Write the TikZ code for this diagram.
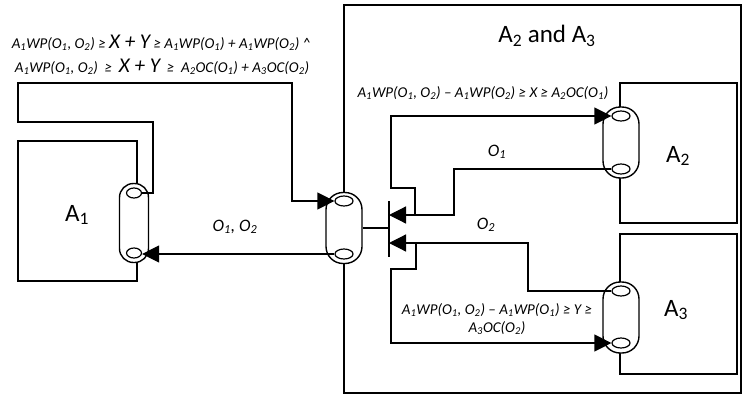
\documentclass[tikz,border=0pt]{standalone}
\usepackage{fontspec}
\setmainfont{Carlito}
\usetikzlibrary{arrows.meta,shapes.geometric}
\newcommand{\sbx}[1]{\textsubscript{#1}}
\begin{document}
\begin{tikzpicture}[x=1pt,y=-1pt,
  box/.style={draw,line width=1.2pt},
  pill/.style={draw,fill=white,line width=1.4pt,inner sep=0pt,minimum width=36pt,minimum height=71pt,rounded corners=17pt},
  ell/.style={ellipse,draw,fill=white,line width=1.2pt,inner sep=0pt,minimum width=18pt,minimum height=10pt},
  conn/.style={line width=1.2pt},
  arr/.style={line width=1.2pt,-{Triangle[length=17pt,width=17pt]}},
  barline/.style={line width=1.8pt},
  lbl/.style={font=\fontsize{15}{18}\selectfont\itshape,inner sep=0pt},
  olbl/.style={font=\fontsize{17.5}{20}\selectfont\itshape,inner sep=0pt},
  biglbl/.style={font=\fontsize{25}{28}\selectfont,inner sep=0pt}]
\useasboundingbox (0,0) rectangle (742,394);
% boxes
\draw[box] (344,5) rectangle (741,393);
\draw[box] (18,141) rectangle (137,281);
\draw[box] (620,83) rectangle (737,223);
\draw[box] (620,234) rectangle (737,374);
% pills
\node[pill,minimum width=29pt,minimum height=79pt,rounded corners=14pt] (p1) at (134,223) {};
\node[ell,minimum width=15pt] (p1t) at (134,193) {};
\node[ell,minimum width=15pt] (p1b) at (134,253) {};
\node[pill] (pc) at (344,228) {};
\node[ell] (pct) at (344,201) {};
\node[ell] (pcb) at (344,254) {};
\node[pill] (p2) at (621,142.5) {};
\node[ell] (p2t) at (621,116) {};
\node[ell] (p2b) at (621,169) {};
\node[pill] (p3) at (621,317.5) {};
\node[ell] (p3t) at (621,291) {};
\node[ell] (p3b) at (621,343) {};
% bar and junctions
\coordinate (bar) at (389,228);
\coordinate (bin1) at (389,215);
\coordinate (bin2) at (389,243);
\coordinate (j1) at (415,215);
\coordinate (j2) at (416,243);
\draw[barline] (389,201) -- (389,257);
\draw[conn] (pc.east) -- (bar);
% connectors
\draw[arr] (p1t.east) -| (153,122) -| (18,83) -- (292,83) |- (pct.west);
\draw[arr] (pcb.west) -- (p1b.east |- pcb.west);
\draw[arr] (p2b.west) -| (454,215) -- (bin1);
\draw[arr] (j1) -- (415,188) -- (391,188) |- (p2t.west);
\draw[arr] (p3t.west) -| (528,243) -- (bin2);
\draw[arr] (j2) -- (416,269) -- (391,269) |- (p3b.west);
% labels
\node[lbl] (c1) at (161,43) {A\sbx{1}WP(O\sbx{1}, O\sbx{2}) ≥ {\fontsize{21}{22}\selectfont X + Y} ≥ A\sbx{1}WP(O\sbx{1}) + A\sbx{1}WP(O\sbx{2}) \textasciicircum};
\node[lbl] (c2) at (162,67) {A\sbx{1}WP(O\sbx{1}, O\sbx{2})\ \ ≥\ \ {\fontsize{21}{22}\selectfont X + Y}\ \ ≥\ \ A\sbx{2}OC(O\sbx{1}) + A\sbx{3}OC(O\sbx{2})};
\node[biglbl] (t23) at (547,36) {A\sbx{2} and A\sbx{3}};
\node[biglbl] (t1) at (77,215) {A\sbx{1}};
\node[biglbl] (t2) at (678,156) {A\sbx{2}};
\node[biglbl] (t3) at (676,310) {A\sbx{3}};
\node[olbl] (o12) at (235,227) {O\sbx{1}, O\sbx{2}};
\node[olbl] (o1) at (497,152) {O\sbx{1}};
\node[olbl] (o2) at (486,225) {O\sbx{2}};
\node[lbl] (xl) at (483,93) {A\sbx{1}WP(O\sbx{1}, O\sbx{2}) – A\sbx{1}WP(O\sbx{2}) ≥ X ≥ A\sbx{2}OC(O\sbx{1})};
\node[lbl] (yl1) at (497,310) {A\sbx{1}WP(O\sbx{1}, O\sbx{2}) – A\sbx{1}WP(O\sbx{1}) ≥ Y ≥};
\node[lbl] (yl2) at (497,328) {A\sbx{3}OC(O\sbx{2})};
\end{tikzpicture}
\end{document}
